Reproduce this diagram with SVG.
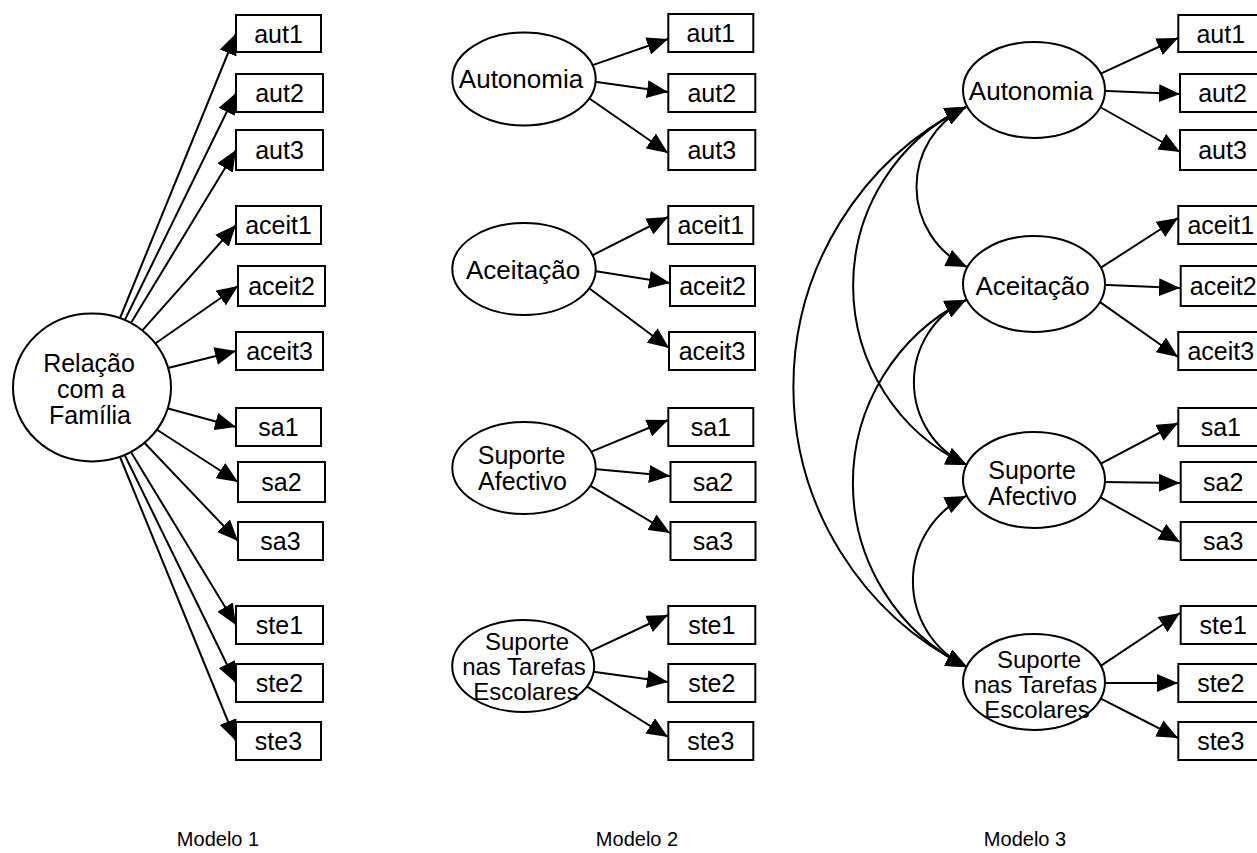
<svg xmlns="http://www.w3.org/2000/svg" width="1257" height="853" viewBox="0 0 1257 853">
<defs>
<style>
.box{fill:#fff;stroke:#000;stroke-width:2}
.lat{fill:#fff;stroke:#000;stroke-width:2}
.c{fill:none;stroke:#000;stroke-width:2;marker-end:url(#ah)}
.cov{fill:none;stroke:#000;stroke-width:2;marker-start:url(#ah2);marker-end:url(#ah2)}
text{font-family:"Liberation Sans",Arial,sans-serif;font-size:25px;text-anchor:middle;fill:#000}
.n26{font-size:26px}
.n25{font-size:25px}
.n24{font-size:24px}
.lbl{font-size:20px}
</style>
<marker id="ah" markerUnits="userSpaceOnUse" markerWidth="21" markerHeight="18" viewBox="0 0 21 18" refX="21" refY="9" orient="auto"><path d="M0,0 L21,9 L0,18 z" fill="#000"/></marker>
<marker id="ah2" markerUnits="userSpaceOnUse" markerWidth="21" markerHeight="18" viewBox="0 0 21 18" refX="21" refY="9" orient="auto-start-reverse"><path d="M0,0 L21,9 L0,18 z" fill="#000"/></marker>
</defs>
<rect x="0" y="0" width="1257" height="853" fill="#fff"/>
<g id="connectors">
<path class="c" d="M118,323 L236,33.5"/>
<path class="c" d="M122.5,324.7 L236,93"/>
<path class="c" d="M128.5,327 L236,150"/>
<path class="c" d="M139.5,333.7 L236,225"/>
<path class="c" d="M152,345.7 L238,286"/>
<path class="c" d="M164,369 L236,351"/>
<path class="c" d="M163.5,407.3 L236,427"/>
<path class="c" d="M153.5,427.5 L238,482"/>
<path class="c" d="M142,440.3 L238,541"/>
<path class="c" d="M128.5,448 L236,625"/>
<path class="c" d="M122.5,450.5 L236,683"/>
<path class="c" d="M118,452 L236,741"/>
<path class="c" d="M589,66.4 L668,39"/>
<path class="c" d="M591.5,81.2 L668,92"/>
<path class="c" d="M585.5,95.8 L668,153"/>
<path class="c" d="M589,257 L668,217"/>
<path class="c" d="M591.5,270.5 L670,283"/>
<path class="c" d="M585.5,285.5 L669,348"/>
<path class="c" d="M589,452.7 L668,420"/>
<path class="c" d="M591.5,468.7 L670,476"/>
<path class="c" d="M585.5,482.9 L670,533"/>
<path class="c" d="M589,651.8 L668,615"/>
<path class="c" d="M591.5,671.5 L668,682"/>
<path class="c" d="M585.5,685.7 L668,737"/>
<path class="c" d="M1098,74.8 L1178,38"/>
<path class="c" d="M1101.5,90.8 L1180,94"/>
<path class="c" d="M1096.5,105 L1180,152"/>
<path class="c" d="M1098.5,269.2 L1178,218"/>
<path class="c" d="M1101.5,284.8 L1180,288"/>
<path class="c" d="M1096.5,299.6 L1178,357"/>
<path class="c" d="M1098.5,464.9 L1178,423"/>
<path class="c" d="M1101.5,482 L1180,483"/>
<path class="c" d="M1096.5,495.1 L1180,542"/>
<path class="c" d="M1098.5,667.3 L1180,613"/>
<path class="c" d="M1101.5,683 L1178,683"/>
<path class="c" d="M1096.5,696.3 L1178,738"/>
<path class="cov" d="M966,107 A89,89 0 0,0 967,267"/>
<path class="cov" d="M966,300 A91,91 0 0,0 967,465"/>
<path class="cov" d="M966,496 A95,95 0 0,0 967,667"/>
<path class="cov" d="M966,107 A198,198 0 0,0 967,465"/>
<path class="cov" d="M966,300 A205,205 0 0,0 967,667"/>
<path class="cov" d="M966,107 A313,313 0 0,0 967,667"/>
</g>
<g id="m1-familia"><ellipse class="lat" cx="92" cy="387.5" rx="79" ry="74"/><text class="n25" x="89" y="372">Relação</text><text class="n25" x="91" y="398">com a</text><text class="n25" x="90" y="423.5">Família</text></g>
<g id="m1-aut1"><rect class="box" x="236" y="15" width="85" height="37"/><text x="278.5" y="42.5">aut1</text></g>
<g id="m1-aut2"><rect class="box" x="236" y="74" width="87" height="38"/><text x="279.5" y="102">aut2</text></g>
<g id="m1-aut3"><rect class="box" x="236" y="130" width="87" height="40"/><text x="279.5" y="159">aut3</text></g>
<g id="m1-aceit1"><rect class="box" x="236" y="206" width="85" height="38"/><text x="278.5" y="234">aceit1</text></g>
<g id="m1-aceit2"><rect class="box" x="238" y="266" width="87" height="40"/><text x="281.5" y="295">aceit2</text></g>
<g id="m1-aceit3"><rect class="box" x="236" y="332" width="87" height="38"/><text x="279.5" y="360">aceit3</text></g>
<g id="m1-sa1"><rect class="box" x="236" y="408" width="85" height="38"/><text x="278.5" y="436">sa1</text></g>
<g id="m1-sa2"><rect class="box" x="238" y="462" width="87" height="40"/><text x="281.5" y="491">sa2</text></g>
<g id="m1-sa3"><rect class="box" x="238" y="522" width="85" height="38"/><text x="280.5" y="550">sa3</text></g>
<g id="m1-ste1"><rect class="box" x="236" y="606" width="87" height="38"/><text x="279.5" y="634">ste1</text></g>
<g id="m1-ste2"><rect class="box" x="236" y="664" width="87" height="38"/><text x="279.5" y="692">ste2</text></g>
<g id="m1-ste3"><rect class="box" x="236" y="722" width="85" height="38"/><text x="278.5" y="750">ste3</text></g>
<g id="m2-autonomia"><ellipse class="lat" cx="524" cy="79" rx="71.7" ry="46.5"/><text class="n26" x="521" y="88">Autonomia</text></g>
<g id="m2-aceitacao"><ellipse class="lat" cx="524" cy="269" rx="71.7" ry="46"/><text class="n26" x="523" y="279">Aceitação</text></g>
<g id="m2-sa"><ellipse class="lat" cx="524" cy="468" rx="71.7" ry="46"/><text class="n25" x="521.5" y="463.5">Suporte</text><text class="n25" x="522.5" y="489.5">Afectivo</text></g>
<g id="m2-ste"><ellipse class="lat" cx="523.2" cy="666" rx="71" ry="46"/><text class="n24" x="527" y="650">Suporte</text><text class="n24" x="524" y="675">nas Tarefas</text><text class="n24" x="526" y="700">Escolares</text></g>
<g id="m2-aut1"><rect class="box" x="668.3" y="14" width="85" height="38"/><text x="710.8" y="42">aut1</text></g>
<g id="m2-aut2"><rect class="box" x="668.3" y="74" width="87" height="38"/><text x="711.8" y="102">aut2</text></g>
<g id="m2-aut3"><rect class="box" x="668.3" y="130" width="87" height="40"/><text x="711.8" y="159">aut3</text></g>
<g id="m2-aceit1"><rect class="box" x="668.3" y="206" width="85" height="38"/><text x="710.8" y="234">aceit1</text></g>
<g id="m2-aceit2"><rect class="box" x="670" y="266" width="85" height="40"/><text x="712.5" y="295">aceit2</text></g>
<g id="m2-aceit3"><rect class="box" x="669" y="332" width="86" height="38"/><text x="712" y="360">aceit3</text></g>
<g id="m2-sa1"><rect class="box" x="668.3" y="408" width="85" height="38"/><text x="710.8" y="436">sa1</text></g>
<g id="m2-sa2"><rect class="box" x="670.5" y="462" width="85" height="40"/><text x="713" y="491">sa2</text></g>
<g id="m2-sa3"><rect class="box" x="670.5" y="522" width="85" height="38"/><text x="713" y="550">sa3</text></g>
<g id="m2-ste1"><rect class="box" x="668.3" y="606" width="87" height="38"/><text x="711.8" y="634">ste1</text></g>
<g id="m2-ste2"><rect class="box" x="668.3" y="664" width="87" height="38"/><text x="711.8" y="692">ste2</text></g>
<g id="m2-ste3"><rect class="box" x="668.3" y="722" width="85" height="38"/><text x="710.8" y="750">ste3</text></g>
<g id="m3-autonomia"><ellipse class="lat" cx="1034" cy="90" rx="71" ry="48"/><text class="n26" x="1031" y="100">Autonomia</text></g>
<g id="m3-aceitacao"><ellipse class="lat" cx="1034" cy="284" rx="71" ry="48"/><text class="n26" x="1032.5" y="295">Aceitação</text></g>
<g id="m3-sa"><ellipse class="lat" cx="1034" cy="480" rx="71" ry="48"/><text class="n25" x="1032" y="479">Suporte</text><text class="n25" x="1032.5" y="505">Afectivo</text></g>
<g id="m3-ste"><ellipse class="lat" cx="1034" cy="682" rx="71" ry="48"/><text class="n24" x="1039" y="668">Suporte</text><text class="n24" x="1035.5" y="693">nas Tarefas</text><text class="n24" x="1037" y="717.5">Escolares</text></g>
<g id="m3-aut1"><rect class="box" x="1178.3" y="15" width="85" height="37"/><text x="1220.8" y="42.5">aut1</text></g>
<g id="m3-aut2"><rect class="box" x="1180" y="74" width="85" height="38"/><text x="1222.5" y="102">aut2</text></g>
<g id="m3-aut3"><rect class="box" x="1180" y="130" width="85" height="40"/><text x="1222.5" y="159">aut3</text></g>
<g id="m3-aceit1"><rect class="box" x="1178.3" y="206" width="85" height="38"/><text x="1220.8" y="234">aceit1</text></g>
<g id="m3-aceit2"><rect class="box" x="1180.7" y="266" width="85" height="40"/><text x="1223.2" y="295">aceit2</text></g>
<g id="m3-aceit3"><rect class="box" x="1178.3" y="332" width="85" height="38"/><text x="1220.8" y="360">aceit3</text></g>
<g id="m3-sa1"><rect class="box" x="1178.3" y="408" width="85" height="38"/><text x="1220.8" y="436">sa1</text></g>
<g id="m3-sa2"><rect class="box" x="1180.7" y="462" width="85" height="40"/><text x="1223.2" y="491">sa2</text></g>
<g id="m3-sa3"><rect class="box" x="1180.7" y="522" width="85" height="38"/><text x="1223.2" y="550">sa3</text></g>
<g id="m3-ste1"><rect class="box" x="1180.7" y="606" width="85" height="38"/><text x="1223.2" y="634">ste1</text></g>
<g id="m3-ste2"><rect class="box" x="1178.3" y="664" width="85" height="38"/><text x="1220.8" y="692">ste2</text></g>
<g id="m3-ste3"><rect class="box" x="1178.3" y="722" width="85" height="38"/><text x="1220.8" y="750">ste3</text></g>
<g id="labels">
<text class="lbl" x="218" y="846">Modelo 1</text>
<text class="lbl" x="637" y="846">Modelo 2</text>
<text class="lbl" x="1025" y="846">Modelo 3</text>
</g>
</svg>
